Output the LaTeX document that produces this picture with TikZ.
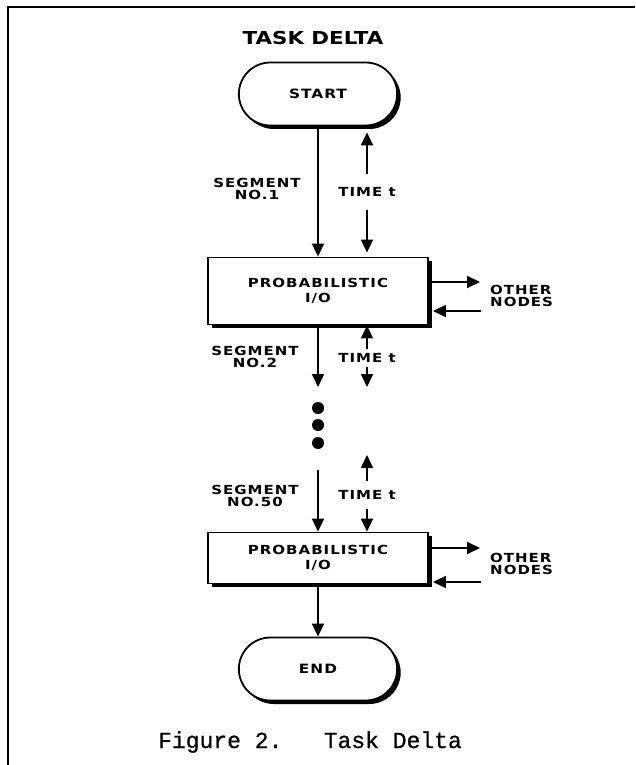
\documentclass[tikz,border=0pt]{standalone}
\usepackage{fontspec}
\usetikzlibrary{arrows.meta,shapes.misc,shadows}
\newfontfamily\lblfont{DejaVu Sans}[FakeStretch=1.2,LetterSpace=8]
\newfontfamily\ttlfont{DejaVu Sans}[FakeStretch=1.2]
\newfontfamily\capfont{Liberation Mono}[FakeBold=0.8]

\begin{document}
\begin{tikzpicture}[x=1pt,y=-1pt,
        arr/.style={line width=1.8pt,-{Triangle[width=12pt,length=13pt]}},
        shade/.style={drop shadow={opacity=1,fill=black,shadow xshift=3.5pt,shadow yshift=-3.5pt}},
        term/.style={rounded rectangle,draw,line width=1.8pt,fill=white,shade,
            minimum width=165pt,minimum height=63pt,
            font=\fontsize{12.8}{14}\selectfont\lblfont\bfseries},
        iobox/.style={rectangle,draw,line width=1.8pt,fill=white,shade,
            minimum width=220pt,align=center,
            font=\fontsize{12.5}{14.5}\selectfont\lblfont\bfseries},
        lbl/.style={font=\fontsize{12.5}{12.5}\selectfont\lblfont\bfseries,align=center,inner sep=0pt}]
            \useasboundingbox (0,0) rectangle (635,765);
            \draw[line width=1.8pt] (8,765) -- (8,7) -- (635,7);

            \node[font=\fontsize{17.8}{20}\selectfont\ttlfont\bfseries] (title) at (313,38) {TASK DELTA};
            \node[term] (start) at (318,94) {START};
            \node[iobox,minimum height=67pt] (io1) at (318,291) {PROBABILISTIC\\I/O};
            \node[iobox,minimum height=51pt] (io2) at (318,558) {PROBABILISTIC\\I/O};
            \node[term] (stop) at (318,669) {END};

            % segment 1
            \node[lbl] (sg1) at (257,189) {SEGMENT\\NO.1};
            \node[lbl,inner ysep=13pt] (t1) at (367,192) {TIME t};
            \draw[arr] (start) -- (io1);
            \draw[arr,shorten >=6pt] (t1) -- (start.south -| t1);
            \draw[arr,shorten >=4pt] (t1) -- (io1.north -| t1);

            % segment 2
            \coordinate (m2) at (318,387);
            \coordinate (d2) at (367,387);
            \node[lbl] (sg2) at (255,357) {SEGMENT\\NO.2};
            \node[lbl,inner ysep=4pt] (t2) at (367,358) {TIME t};
            \draw[arr] (io1) -- (m2);
            \draw[arr] (t2) -- (io1.south -| t2);
            \draw[arr] (t2) -- (d2);

            \foreach \y in {408,425,443}
                \fill (318,\y) circle (6pt);

            % segment 50
            \coordinate (m50) at (318,470);
            \coordinate (u50) at (367,455);
            \node[lbl] (sg50) at (255,496) {SEGMENT\\NO.50};
            \node[lbl,inner ysep=9pt] (t50) at (367,495) {TIME t};
            \draw[arr] (m50) -- (io2);
            \draw[arr] (t50) -- (u50);
            \draw[arr] (t50) -- (io2.north -| t50);
            \draw[arr] (io2) -- (stop);

            % other nodes
            \node[lbl,align=left,anchor=west] (on1) at (490,296) {OTHER\\NODES};
            \node[lbl,align=left,anchor=west] (on2) at (490,564) {OTHER\\NODES};
            \coordinate (o1a) at (480,282);
            \coordinate (o1b) at (481,311);
            \coordinate (o2a) at (480,548);
            \coordinate (o2b) at (481,582);
            \draw[arr] (io1.east |- o1a) -- (o1a);
            \draw[arr,shorten >=4pt] (o1b) -- (io1.east |- o1b);
            \draw[arr] (io2.east |- o2a) -- (o2a);
            \draw[arr,shorten >=4pt] (o2b) -- (io2.east |- o2b);

            \node[font=\fontsize{23}{26}\selectfont\capfont,anchor=base] (cap) at (310,748) {Figure~2.~~~Task~Delta};
        \end{tikzpicture}
\end{document}
